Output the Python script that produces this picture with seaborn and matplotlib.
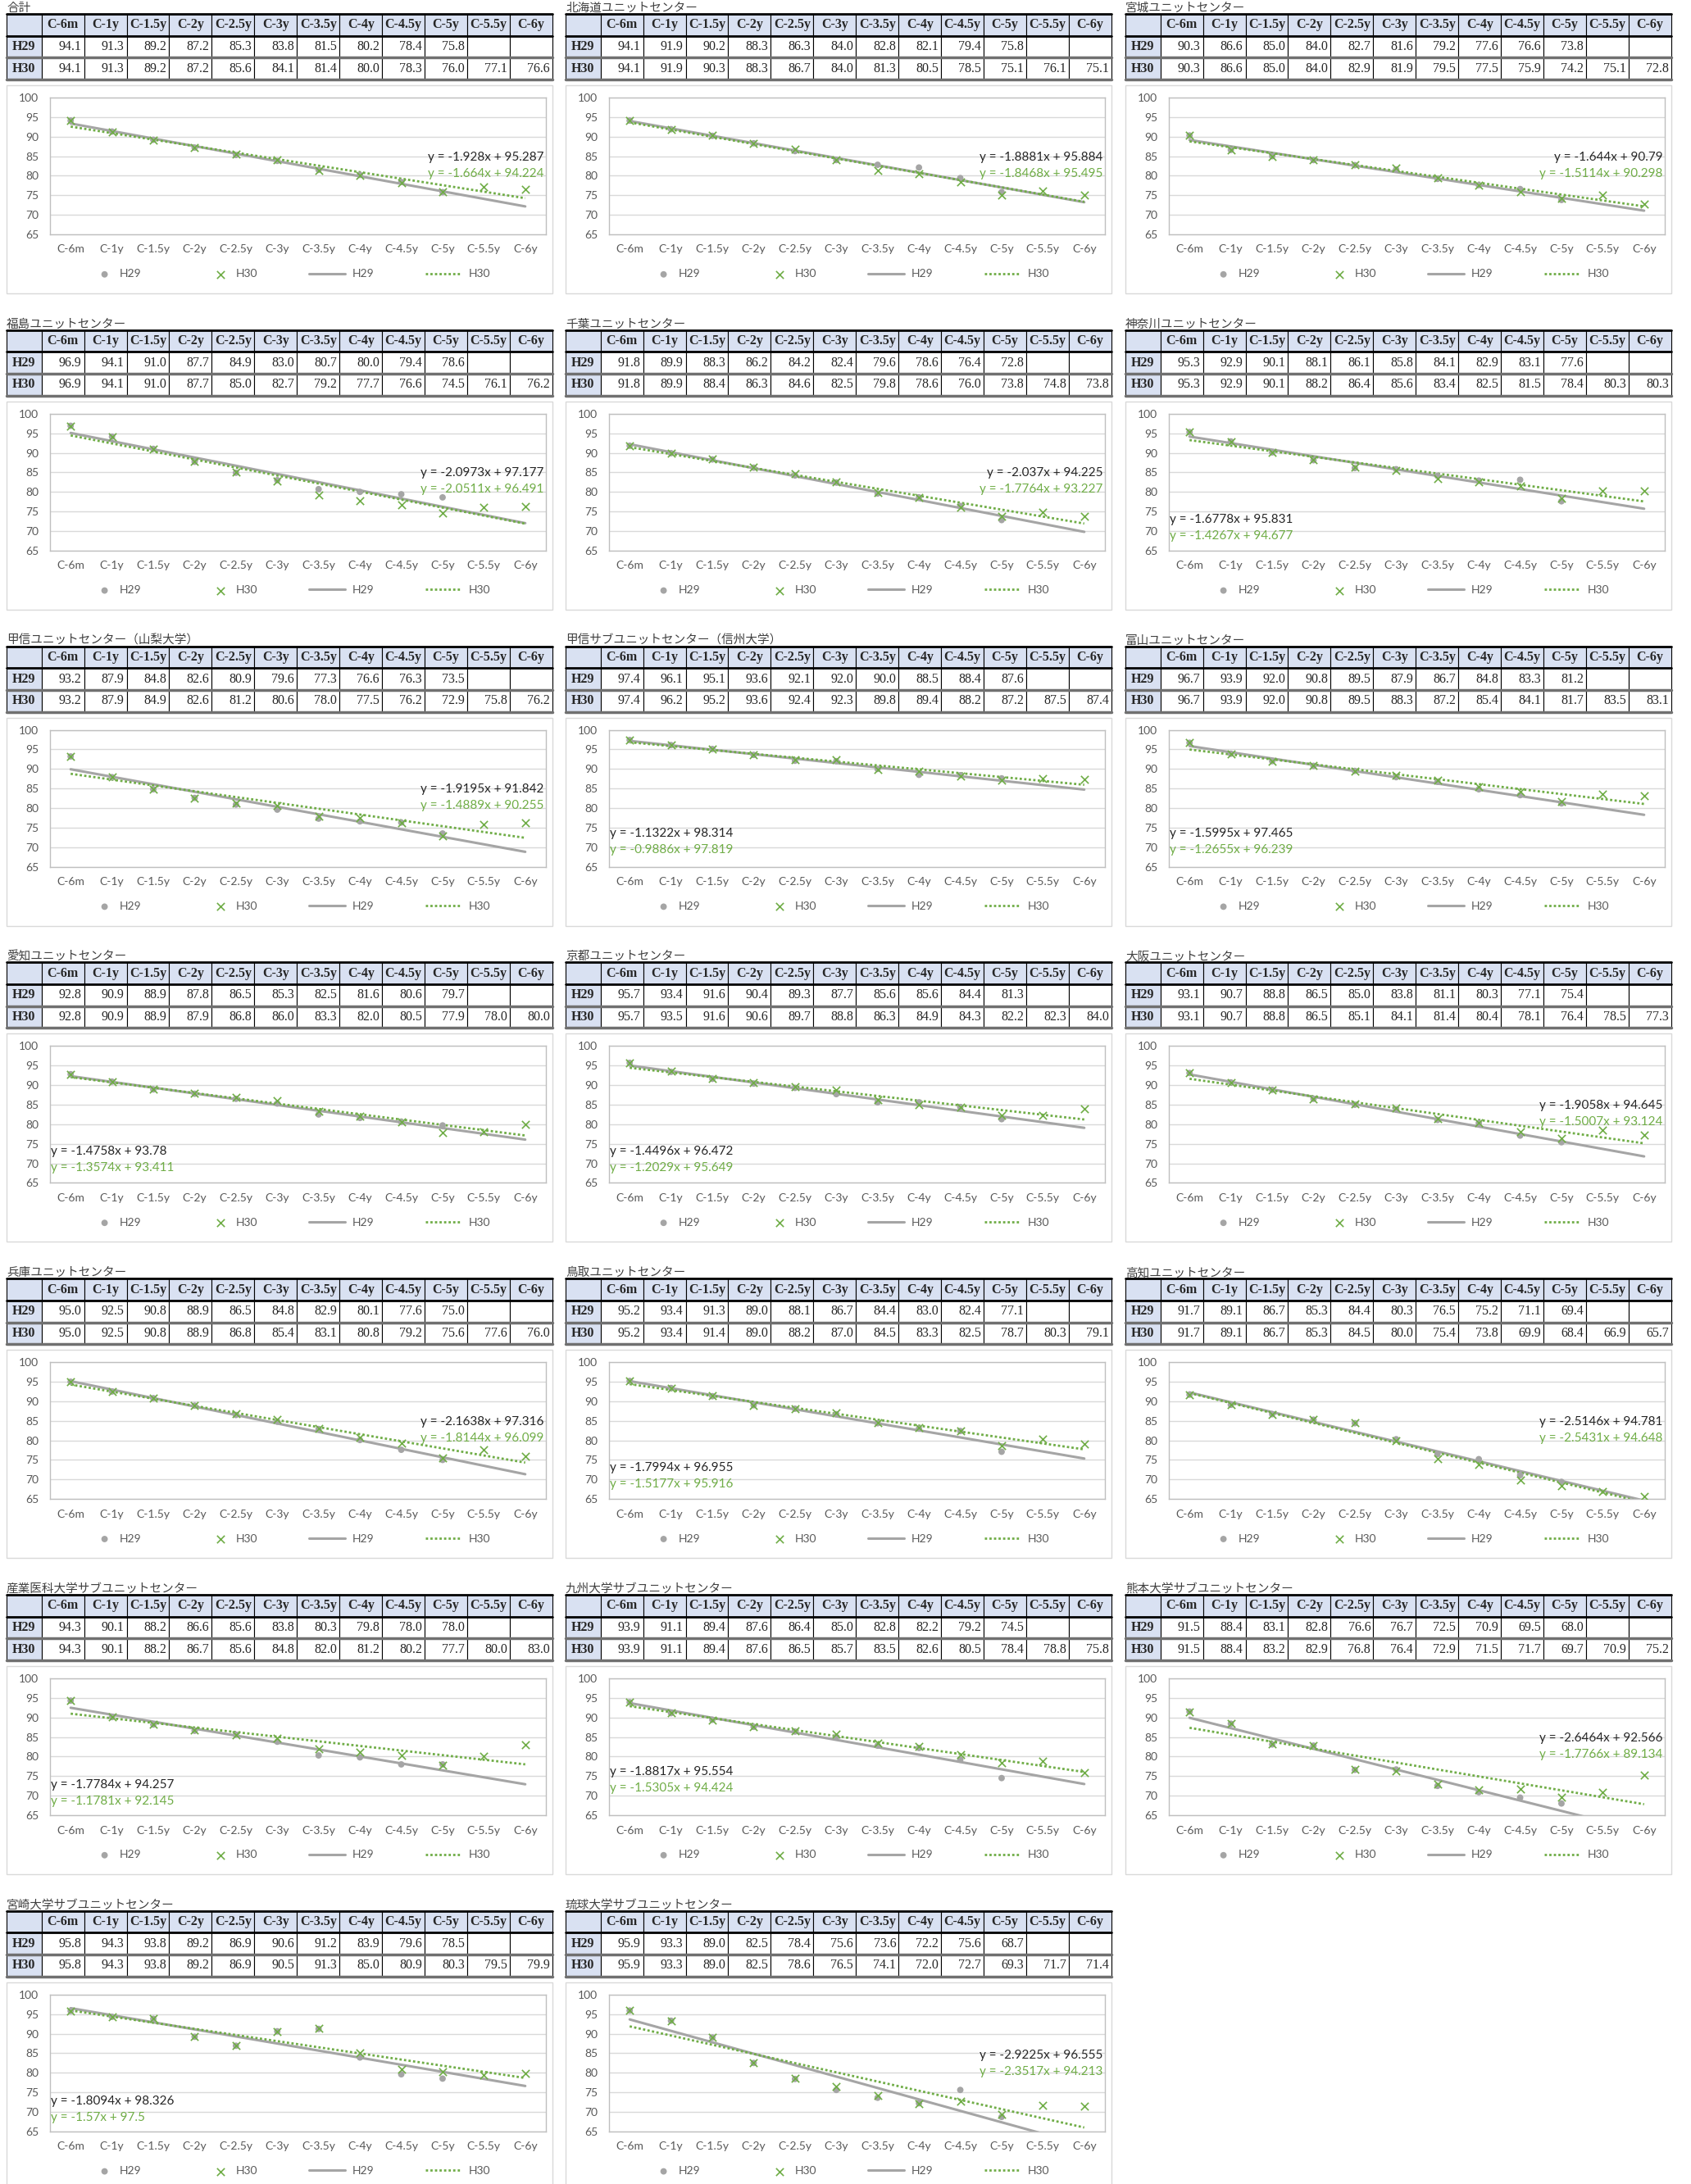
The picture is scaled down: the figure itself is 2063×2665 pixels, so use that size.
import numpy as np
import pandas as pd
import seaborn as sns
import matplotlib.pyplot as plt
from matplotlib.patches import Rectangle
from matplotlib.collections import PathCollection
from matplotlib.legend_handler import HandlerPathCollection

sns.set_style("white")
plt.rcParams['font.family'] = ['Lato', 'Noto Sans CJK JP', 'DejaVu Sans']

# データ
cats = ["C-6m", "C-1y", "C-1.5y", "C-2y", "C-2.5y", "C-3y",
        "C-3.5y", "C-4y", "C-4.5y", "C-5y", "C-5.5y", "C-6y"]

titles = ["合計", "北海道ユニットセンター", "宮城ユニットセンター",
          "福島ユニットセンター", "千葉ユニットセンター", "神奈川ユニットセンター",
          "甲信ユニットセンター（山梨大学）", "甲信サブユニットセンター（信州大学）", "富山ユニットセンター",
          "愛知ユニットセンター", "京都ユニットセンター", "大阪ユニットセンター",
          "兵庫ユニットセンター", "鳥取ユニットセンター", "高知ユニットセンター",
          "産業医科大学サブユニットセンター", "九州大学サブユニットセンター", "熊本大学サブユニットセンター",
          "宮崎大学サブユニットセンター", "琉球大学サブユニットセンター"]

h29 = [
    [94.1, 91.3, 89.2, 87.2, 85.3, 83.8, 81.5, 80.2, 78.4, 75.8],
    [94.1, 91.9, 90.2, 88.3, 86.3, 84.0, 82.8, 82.1, 79.4, 75.8],
    [90.3, 86.6, 85.0, 84.0, 82.7, 81.6, 79.2, 77.6, 76.6, 73.8],
    [96.9, 94.1, 91.0, 87.7, 84.9, 83.0, 80.7, 80.0, 79.4, 78.6],
    [91.8, 89.9, 88.3, 86.2, 84.2, 82.4, 79.6, 78.6, 76.4, 72.8],
    [95.3, 92.9, 90.1, 88.1, 86.1, 85.8, 84.1, 82.9, 83.1, 77.6],
    [93.2, 87.9, 84.8, 82.6, 80.9, 79.6, 77.3, 76.6, 76.3, 73.5],
    [97.4, 96.1, 95.1, 93.6, 92.1, 92.0, 90.0, 88.5, 88.4, 87.6],
    [96.7, 93.9, 92.0, 90.8, 89.5, 87.9, 86.7, 84.8, 83.3, 81.2],
    [92.8, 90.9, 88.9, 87.8, 86.5, 85.3, 82.5, 81.6, 80.6, 79.7],
    [95.7, 93.4, 91.6, 90.4, 89.3, 87.7, 85.6, 85.6, 84.4, 81.3],
    [93.1, 90.7, 88.8, 86.5, 85.0, 83.8, 81.1, 80.3, 77.1, 75.4],
    [95.0, 92.5, 90.8, 88.9, 86.5, 84.8, 82.9, 80.1, 77.6, 75.0],
    [95.2, 93.4, 91.3, 89.0, 88.1, 86.7, 84.4, 83.0, 82.4, 77.1],
    [91.7, 89.1, 86.7, 85.3, 84.4, 80.3, 76.5, 75.2, 71.1, 69.4],
    [94.3, 90.1, 88.2, 86.6, 85.6, 83.8, 80.3, 79.8, 78.0, 78.0],
    [93.9, 91.1, 89.4, 87.6, 86.4, 85.0, 82.8, 82.2, 79.2, 74.5],
    [91.5, 88.4, 83.1, 82.8, 76.6, 76.7, 72.5, 70.9, 69.5, 68.0],
    [95.8, 94.3, 93.8, 89.2, 86.9, 90.6, 91.2, 83.9, 79.6, 78.5],
    [95.9, 93.3, 89.0, 82.5, 78.4, 75.6, 73.6, 72.2, 75.6, 68.7],
]

h30 = [
    [94.1, 91.3, 89.2, 87.2, 85.6, 84.1, 81.4, 80.0, 78.3, 76.0, 77.1, 76.6],
    [94.1, 91.9, 90.3, 88.3, 86.7, 84.0, 81.3, 80.5, 78.5, 75.1, 76.1, 75.1],
    [90.3, 86.6, 85.0, 84.0, 82.9, 81.9, 79.5, 77.5, 75.9, 74.2, 75.1, 72.8],
    [96.9, 94.1, 91.0, 87.7, 85.0, 82.7, 79.2, 77.7, 76.6, 74.5, 76.1, 76.2],
    [91.8, 89.9, 88.4, 86.3, 84.6, 82.5, 79.8, 78.6, 76.0, 73.8, 74.8, 73.8],
    [95.3, 92.9, 90.1, 88.2, 86.4, 85.6, 83.4, 82.5, 81.5, 78.4, 80.3, 80.3],
    [93.2, 87.9, 84.9, 82.6, 81.2, 80.6, 78.0, 77.5, 76.2, 72.9, 75.8, 76.2],
    [97.4, 96.2, 95.2, 93.6, 92.4, 92.3, 89.8, 89.4, 88.2, 87.2, 87.5, 87.4],
    [96.7, 93.9, 92.0, 90.8, 89.5, 88.3, 87.2, 85.4, 84.1, 81.7, 83.5, 83.1],
    [92.8, 90.9, 88.9, 87.9, 86.8, 86.0, 83.3, 82.0, 80.5, 77.9, 78.0, 80.0],
    [95.7, 93.5, 91.6, 90.6, 89.7, 88.8, 86.3, 84.9, 84.3, 82.2, 82.3, 84.0],
    [93.1, 90.7, 88.8, 86.5, 85.1, 84.1, 81.4, 80.4, 78.1, 76.4, 78.5, 77.3],
    [95.0, 92.5, 90.8, 88.9, 86.8, 85.4, 83.1, 80.8, 79.2, 75.6, 77.6, 76.0],
    [95.2, 93.4, 91.4, 89.0, 88.2, 87.0, 84.5, 83.3, 82.5, 78.7, 80.3, 79.1],
    [91.7, 89.1, 86.7, 85.3, 84.5, 80.0, 75.4, 73.8, 69.9, 68.4, 66.9, 65.7],
    [94.3, 90.1, 88.2, 86.7, 85.6, 84.8, 82.0, 81.2, 80.2, 77.7, 80.0, 83.0],
    [93.9, 91.1, 89.4, 87.6, 86.5, 85.7, 83.5, 82.6, 80.5, 78.4, 78.8, 75.8],
    [91.5, 88.4, 83.2, 82.9, 76.8, 76.4, 72.9, 71.5, 71.7, 69.7, 70.9, 75.2],
    [95.8, 94.3, 93.8, 89.2, 86.9, 90.5, 91.3, 85.0, 80.9, 80.3, 79.5, 79.9],
    [95.9, 93.3, 89.0, 82.5, 78.6, 76.5, 74.1, 72.0, 72.7, 69.3, 71.7, 71.4],
]

# 近似直線 (傾き, 切片)
fit29 = [(-1.928, 95.287), (-1.8881, 95.884), (-1.644, 90.79),
         (-2.0973, 97.177), (-2.037, 94.225), (-1.6778, 95.831),
         (-1.9195, 91.842), (-1.1322, 98.314), (-1.5995, 97.465),
         (-1.4758, 93.78), (-1.4496, 96.472), (-1.9058, 94.645),
         (-2.1638, 97.316), (-1.7994, 96.955), (-2.5146, 94.781),
         (-1.7784, 94.257), (-1.8817, 95.554), (-2.6464, 92.566),
         (-1.8094, 98.326), (-2.9225, 96.555)]
fit30 = [(-1.664, 94.224), (-1.8468, 95.495), (-1.5114, 90.298),
         (-2.0511, 96.491), (-1.7764, 93.227), (-1.4267, 94.677),
         (-1.4889, 90.255), (-0.9886, 97.819), (-1.2655, 96.239),
         (-1.3574, 93.411), (-1.2029, 95.649), (-1.5007, 93.124),
         (-1.8144, 96.099), (-1.5177, 95.916), (-2.5431, 94.648),
         (-1.1781, 92.145), (-1.5305, 94.424), (-1.7766, 89.134),
         (-1.57, 97.5), (-2.3517, 94.213)]

# 数式ラベルの位置 (左/右, 高さ)
eq_side = ['R', 'R', 'R', 'R', 'R', 'L', 'R', 'L', 'L', 'L',
           'L', 'R', 'R', 'L', 'R', 'L', 'L', 'R', 'L', 'R']
eq_y = [84.8, 84.8, 84.8, 84.8, 84.8, 73.0, 84.8, 73.5, 73.5, 73.0,
        73.0, 84.8, 84.8, 73.0, 84.8, 72.8, 76.2, 84.8, 72.8, 84.5]

GRAY = '#a5a5a5'
GREEN = '#70ad47'
HEAD = '#d9e1f2'

W, H = 2063, 2665
fig = plt.figure(figsize=(W / 100, H / 100), dpi=100)


def fr(x, y, w, h):
    return [x / W, 1 - (y + h) / H, w / W, h / H]


class NearText(HandlerPathCollection):
    # 凡例のマーカーを文字の近くに置く
    def get_xdata(self, legend, xdescent, ydescent, width, height, fontsize):
        x = [width * 0.78 - xdescent]
        return x, x


col_left = [8, 690, 1373]
PW = 666
row_h = 385.8
xs = np.arange(1, 13)

for i, title in enumerate(titles):
    r, c = divmod(i, 3)
    top = r * row_h
    left = col_left[c]

    fig.text(left / W, 1 - (top + 10) / H, title, ha='left', va='center',
             fontsize=10.5, color='#404040', family=['Noto Sans CJK JP', 'DejaVu Sans'])

    # 表
    tax = fig.add_axes(fr(left, top + 17, PW, 80))
    tax.axis('off')
    rows = [[''] + cats,
            ['H29'] + [f"{v:.1f}" for v in h29[i]] + ['', ''],
            ['H30'] + [f"{v:.1f}" for v in h30[i]]]
    tbl = tax.table(cellText=rows, bbox=[0, 0, 1, 1], cellLoc='right',
                    colWidths=[0.064] + [0.078] * 12)
    tbl.auto_set_font_size(False)
    tbl.set_fontsize(11.5)
    for (ri, ci), cell in tbl.get_celld().items():
        cell.set_edgecolor('black')
        cell.set_linewidth(0.8)
        txt = cell.get_text()
        txt.set_fontfamily('Liberation Serif')
        if ri == 0 or ci == 0:
            cell.set_facecolor(HEAD)
            txt.set_fontweight('bold')
            cell._loc = 'center'
            txt.set_ha('center')
        cell.PAD = 0.06
    for yy, lc, lw in [(1, 'black', 2), (2 / 3, 'black', 2), (1 / 3, '#707070', 2.5), (0, '#707070', 2.5)]:
        tax.plot([0, 1], [yy, yy], color=lc, lw=lw, transform=tax.transAxes,
                 clip_on=False, zorder=5)

    # グラフ枠
    fig.add_artist(Rectangle((left / W, 1 - (top + 358) / H), PW / W, 254 / H,
                             transform=fig.transFigure, fill=False,
                             edgecolor='#d9d9d9', lw=1))

    ax = fig.add_axes(fr(left + 53, top + 119, 605, 167))
    a29, b29 = fit29[i]
    a30, b30 = fit30[i]
    d29 = pd.DataFrame({'x': xs[:len(h29[i])], 'y': h29[i]})
    d30 = pd.DataFrame({'x': xs, 'y': h30[i]})
    t29 = pd.DataFrame({'x': xs, 'y': a29 * xs + b29})
    t30 = pd.DataFrame({'x': xs, 'y': a30 * xs + b30})

    sns.scatterplot(data=d29, x='x', y='y', ax=ax, color=GRAY, s=32,
                    edgecolor='none', label='H29', zorder=3)
    sns.scatterplot(data=d30, x='x', y='y', ax=ax, color=GREEN, marker='x',
                    s=45, linewidth=1.2, label='H30', zorder=4)
    sns.lineplot(data=t29, x='x', y='y', ax=ax, color=GRAY, lw=2.2,
                 label='H29', zorder=2)
    sns.lineplot(data=t30, x='x', y='y', ax=ax, color=GREEN, lw=2,
                 linestyle=(0, (1, 1)), label='H30', zorder=2)

    ax.set_xlim(0.5, 12.5)
    ax.set_ylim(65, 100)
    ax.set_yticks(range(65, 101, 5))
    ax.set_xticks(xs)
    ax.set_xticklabels(cats)
    ax.set_xlabel('')
    ax.set_ylabel('')
    ax.grid(axis='y', color='#d9d9d9', lw=1)
    ax.set_axisbelow(True)
    for sp in ax.spines.values():
        sp.set_color('#bfbfbf')
        sp.set_linewidth(1)
    ax.tick_params(axis='both', length=0, labelsize=10, colors='#595959')
    ax.tick_params(axis='x', pad=9)
    ax.tick_params(axis='y', pad=10)

    e29 = f"y = {a29}x + {b29}"
    e30 = f"y = {a30}x + {b30}"
    if eq_side[i] == 'R':
        ex, ha = 12.45, 'right'
    else:
        ex, ha = 0.52, 'left'
    ax.text(ex, eq_y[i], e29, ha=ha, va='center', fontsize=11, color='#262626', zorder=6)
    ax.text(ex, eq_y[i] - 4.2, e30, ha=ha, va='center', fontsize=11, color=GREEN, zorder=6)

    handles, labels = ax.get_legend_handles_labels()
    ax.legend(handles, labels, ncol=4, loc='center', bbox_to_anchor=(0.47, -0.29),
              frameon=False, fontsize=10, handlelength=3.2, columnspacing=4.5,
              labelcolor='#595959', handletextpad=0.6,
              handler_map={PathCollection: NearText()})

fig.savefig('out.png', dpi=100, facecolor='white')
